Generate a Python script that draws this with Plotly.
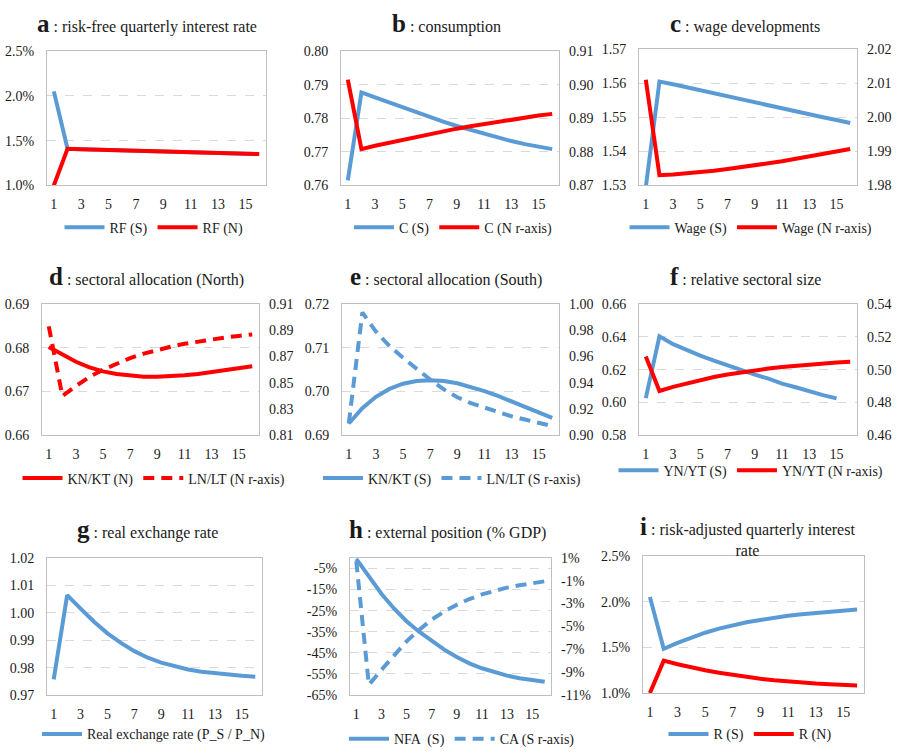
import plotly.graph_objects as go

# ---------------- data ----------------
periods = list(range(1, 17))
x_ticks = [1, 3, 5, 7, 9, 11, 13, 15]

# a: risk-free quarterly interest rate (%)
rf_s = [2.05, 1.41, 1.405, 1.40, 1.395, 1.39, 1.385, 1.38, 1.375, 1.37, 1.368, 1.365, 1.36, 1.358, 1.355, 1.35]
rf_n = [1.00, 1.41, 1.405, 1.40, 1.395, 1.39, 1.385, 1.38, 1.375, 1.37, 1.368, 1.365, 1.36, 1.358, 1.355, 1.35]

# b: consumption
c_s = [0.7615, 0.7877, 0.7862, 0.7847, 0.7832, 0.7817, 0.7803, 0.7790, 0.7777, 0.7765, 0.7753, 0.7742, 0.7732, 0.7723, 0.7715, 0.7708]
c_n = [0.9015, 0.8808, 0.8818, 0.8827, 0.8836, 0.8845, 0.8853, 0.8861, 0.8869, 0.8876, 0.8883, 0.8890, 0.8896, 0.8902, 0.8908, 0.8913]

# c: wage developments
wage_s = [1.5295, 1.5605, 1.5597, 1.5588, 1.5579, 1.5570, 1.5561, 1.5552, 1.5543, 1.5534, 1.5525, 1.5516, 1.5508, 1.5500, 1.5492, 1.5483]
wage_n = [2.0110, 1.9830, 1.9832, 1.9835, 1.9839, 1.9843, 1.9848, 1.9853, 1.9859, 1.9865, 1.9871, 1.9878, 1.9885, 1.9892, 1.9899, 1.9907]

# d: sectoral allocation (North)
knkt_n = [0.6802, 0.6785, 0.6768, 0.6755, 0.6746, 0.6740, 0.6736, 0.6734, 0.6734, 0.6735, 0.6737, 0.6740, 0.6744, 0.6748, 0.6753, 0.6758]
lnlt_n = [0.8930, 0.8400, 0.8475, 0.8545, 0.8600, 0.8648, 0.8688, 0.8722, 0.8750, 0.8775, 0.8797, 0.8815, 0.8831, 0.8845, 0.8857, 0.8868]

# e: sectoral allocation (South)
knkt_s = [0.6927, 0.6962, 0.6988, 0.7006, 0.7018, 0.7024, 0.7026, 0.7024, 0.7019, 0.7011, 0.7001, 0.6990, 0.6978, 0.6966, 0.6953, 0.6940]
lnlt_s = [0.9090, 0.9935, 0.9790, 0.9680, 0.9590, 0.9505, 0.9425, 0.9350, 0.9290, 0.9245, 0.9210, 0.9175, 0.9145, 0.9120, 0.9095, 0.9070]

# f: relative sectoral size
ynyt_s = [0.6027, 0.6403, 0.6355, 0.6318, 0.6285, 0.6255, 0.6225, 0.6197, 0.6170, 0.6145, 0.6115, 0.6093, 0.6068, 0.6045, 0.6025, None]
ynyt_n = [0.5080, 0.4870, 0.4895, 0.4917, 0.4937, 0.4955, 0.4970, 0.4984, 0.4996, 0.5007, 0.5016, 0.5024, 0.5031, 0.5037, 0.5043, 0.5048]

# g: real exchange rate
rer = [0.9757, 1.0064, 1.0015, 0.9967, 0.9925, 0.9890, 0.9860, 0.9836, 0.9818, 0.9804, 0.9793, 0.9785, 0.9779, 0.9774, 0.9770, 0.9767]

# h: external position (% GDP)
nfa_s = [-0.5, -9.0, -17.0, -24.0, -30.0, -35.0, -39.5, -43.5, -47.0, -50.0, -52.3, -54.3, -55.8, -57.0, -58.0, -58.7]
ca_s = [0.7, -10.1, -8.8, -7.5, -6.3, -5.3, -4.4, -3.7, -3.1, -2.6, -2.2, -1.9, -1.6, -1.4, -1.2, -1.05]

# i: risk-adjusted quarterly interest rate (%)
r_s = [2.05, 1.485, 1.55, 1.61, 1.66, 1.705, 1.745, 1.775, 1.80, 1.825, 1.845, 1.862, 1.877, 1.89, 1.902, 1.913]
r_n = [1.00, 1.355, 1.315, 1.28, 1.25, 1.222, 1.197, 1.175, 1.156, 1.140, 1.126, 1.115, 1.105, 1.097, 1.089, 1.083]

# tick labels
pct1_vals = [1.0, 1.5, 2.0, 2.5]
pct1_text = ["1.0%", "1.5%", "2.0%", "2.5%"]
h_left_vals = [-65, -55, -45, -35, -25, -15, -5]
h_left_text = ["-65%", "-55%", "-45%", "-35%", "-25%", "-15%", "-5%"]
h_right_vals = [-11, -9, -7, -5, -3, -1, 1]
h_right_text = ["-11%", "-9%", "-7%", "-5%", "-3%", "-1%", "1%"]

# ---------------- style ----------------
W, H = 898, 756
BLUE = "#5B9BD5"
RED = "#FF0000"
BORDER = "#BFBFBF"
GRID = "#D9D9D9"
FONT = "Liberation Serif"
TXT = "#1a1a1a"
TF = dict(family=FONT, size=14, color=TXT)
LW = 4
DASH = "11px,7px"


def fx(p):
    return p / W


def fy(p):
    return 1 - p / H


fig = go.Figure()
layout = dict(width=W, height=H, margin=dict(l=0, r=0, t=0, b=0), autosize=False,
              paper_bgcolor="white", plot_bgcolor="white", showlegend=True,
              font=dict(family=FONT, size=14, color=TXT))
annotations = []


def num_text(vals, fmt):
    return [fmt.format(v) for v in vals]


def add_panel(k, box, title, title_xy, legend_xy, left, right=None):
    """box = (x0, x1, y0, y1) in pixels; left/right = dict(range, vals, text)"""
    x0, x1, y0, y1 = box
    sx = "" if k == 1 else str(k)
    xname, yname = "xaxis" + sx, "yaxis" + sx
    layout[xname] = dict(domain=[fx(x0), fx(x1)], anchor="y" + sx, range=[0.5, 16.5],
                         tickvals=x_ticks, showgrid=False, zeroline=False, showline=True,
                         linecolor=BORDER, linewidth=1, mirror=True, ticks="",
                         tickfont=TF, ticklabelstandoff=6, fixedrange=True)
    layout[yname] = dict(domain=[fy(y1), fy(y0)], anchor="x" + sx, range=left["range"],
                         tickvals=left["vals"], ticktext=left["text"], tickmode="array",
                         showgrid=True, gridcolor=GRID, griddash="dash", gridwidth=1,
                         zeroline=False, showline=True, linecolor=BORDER, linewidth=1,
                         mirror=True, ticks="", tickfont=TF, ticklabelstandoff=9,
                         fixedrange=True)
    if right is not None:
        rk = str(9 + k)
        layout["yaxis" + rk] = dict(overlaying="y" + sx, anchor="x" + sx, side="right",
                                    range=right["range"], tickvals=right["vals"],
                                    ticktext=right["text"], tickmode="array",
                                    showgrid=False, zeroline=False, showline=False,
                                    ticks="", tickfont=TF, ticklabelstandoff=9,
                                    fixedrange=True)
    lname = "legend" + sx
    layout[lname] = dict(x=fx(legend_xy[0]), y=fy(legend_xy[1]), xanchor="center",
                         yanchor="middle", orientation="h", bgcolor="rgba(0,0,0,0)",
                         font=dict(family=FONT, size=14, color=TXT), itemwidth=40,
                         tracegroupgap=0, traceorder="normal")
    annotations.append(dict(text=title, x=fx(title_xy[0]), y=fy(title_xy[1]),
                            xref="paper", yref="paper", xanchor="center", yanchor="middle",
                            showarrow=False, font=dict(family=FONT, size=16, color=TXT)))
    return "x" + sx, "y" + sx, ("y" + str(9 + k) if right is not None else None), lname


def line(xa, ya, y, name, color, lg, dash=None):
    fig.add_trace(go.Scatter(x=periods, y=y, name=name, mode="lines", xaxis=xa, yaxis=ya,
                             legend=lg, line=dict(color=color, width=LW, dash=dash),
                             connectgaps=False, hoverinfo="skip"))


def T(letter, rest):
    return "<span style='font-size:25px'><b>" + letter + "</b></span> : " + rest


# a
xa, ya, yr, lg = add_panel(1, (47, 266, 45, 182), T("a", "risk-free quarterly interest rate"),
                           (147, 17), (154, 225),
                           dict(range=[1.0, 2.5], vals=pct1_vals, text=pct1_text))
line(xa, ya, rf_s, "RF (S)", BLUE, lg)
line(xa, ya, rf_n, "RF (N)", RED, lg)

# b
vb = [0.76, 0.77, 0.78, 0.79, 0.80]
vbr = [0.87, 0.88, 0.89, 0.90, 0.91]
xa, ya, yr, lg = add_panel(2, (341, 559, 45, 182), T("b", "consumption"), (446, 17), (453, 225),
                           dict(range=[0.76, 0.80], vals=vb, text=num_text(vb, "{:.2f}")),
                           dict(range=[0.87, 0.91], vals=vbr, text=num_text(vbr, "{:.2f}")))
line(xa, ya, c_s, "C (S)", BLUE, lg)
line(xa, yr, c_n, "C (N r-axis)", RED, lg)

# c
vc = [1.53, 1.54, 1.55, 1.56, 1.57]
vcr = [1.98, 1.99, 2.00, 2.01, 2.02]
xa, ya, yr, lg = add_panel(3, (639, 857, 43, 182), T("c", "wage developments"), (745, 17), (751, 225),
                           dict(range=[1.53, 1.57], vals=vc, text=num_text(vc, "{:.2f}")),
                           dict(range=[1.98, 2.02], vals=vcr, text=num_text(vcr, "{:.2f}")))
line(xa, ya, wage_s, "Wage (S)", BLUE, lg)
line(xa, yr, wage_n, "Wage (N r-axis)", RED, lg)

# d
vd = [0.66, 0.67, 0.68, 0.69]
vdr = [0.81, 0.83, 0.85, 0.87, 0.89, 0.91]
xa, ya, yr, lg = add_panel(4, (42, 259, 303, 437), T("d", "sectoral allocation (North)"), (146, 275), (154, 481),
                           dict(range=[0.66, 0.69], vals=vd, text=num_text(vd, "{:.2f}")),
                           dict(range=[0.81, 0.91], vals=vdr, text=num_text(vdr, "{:.2f}")))
line(xa, ya, knkt_n, "KN/KT (N)", RED, lg)
line(xa, yr, lnlt_n, "LN/LT (N r-axis)", RED, lg, DASH)

# e
ve = [0.69, 0.70, 0.71, 0.72]
ver = [0.90, 0.92, 0.94, 0.96, 0.98, 1.00]
xa, ya, yr, lg = add_panel(5, (342, 559, 303, 437), T("e", "sectoral allocation (South)"), (446, 275), (452, 481),
                           dict(range=[0.69, 0.72], vals=ve, text=num_text(ve, "{:.2f}")),
                           dict(range=[0.90, 1.00], vals=ver, text=num_text(ver, "{:.2f}")))
line(xa, ya, knkt_s, "KN/KT (S)", BLUE, lg)
line(xa, yr, lnlt_s, "LN/LT (S r-axis)", BLUE, lg, DASH)

# f
vf = [0.58, 0.60, 0.62, 0.64, 0.66]
vfr = [0.46, 0.48, 0.50, 0.52, 0.54]
xa, ya, yr, lg = add_panel(6, (639, 857, 303, 437), T("f", "relative sectoral size"), (745, 275), (751, 473),
                           dict(range=[0.58, 0.66], vals=vf, text=num_text(vf, "{:.2f}")),
                           dict(range=[0.46, 0.54], vals=vfr, text=num_text(vfr, "{:.2f}")))
line(xa, ya, ynyt_s, "YN/YT (S)", BLUE, lg)
line(xa, yr, ynyt_n, "YN/YT (N r-axis)", RED, lg)

# g
vg = [0.97, 0.98, 0.99, 1.00, 1.01, 1.02]
xa, ya, yr, lg = add_panel(7, (47, 262, 562, 702), T("g", "real exchange rate"), (147, 533), (154, 742),
                           dict(range=[0.97, 1.02], vals=vg, text=num_text(vg, "{:.2f}")))
line(xa, ya, rer, "Real exchange rate (P_S / P_N)", BLUE, lg)

# h
xa, ya, yr, lg = add_panel(8, (350, 551, 562, 702), T("h", "external position (% GDP)"), (447, 533), (462, 747),
                           dict(range=[-65, 0], vals=h_left_vals, text=h_left_text),
                           dict(range=[-11, 1], vals=h_right_vals, text=h_right_text))
line(xa, ya, nfa_s, "NFA  (S)", BLUE, lg)
line(xa, yr, ca_s, "CA (S r-axis)", BLUE, lg, DASH)

# i
xa, ya, yr, lg = add_panel(9, (643, 864, 560, 700), T("i", "risk-adjusted quarterly interest<br>rate"), (747, 540), (750, 742),
                           dict(range=[1.0, 2.5], vals=pct1_vals, text=pct1_text))
line(xa, ya, r_s, "R (S)", BLUE, lg)
line(xa, ya, r_n, "R (N)", RED, lg)

layout["annotations"] = annotations
fig.update_layout(**layout)
fig.write_html("out.html")
